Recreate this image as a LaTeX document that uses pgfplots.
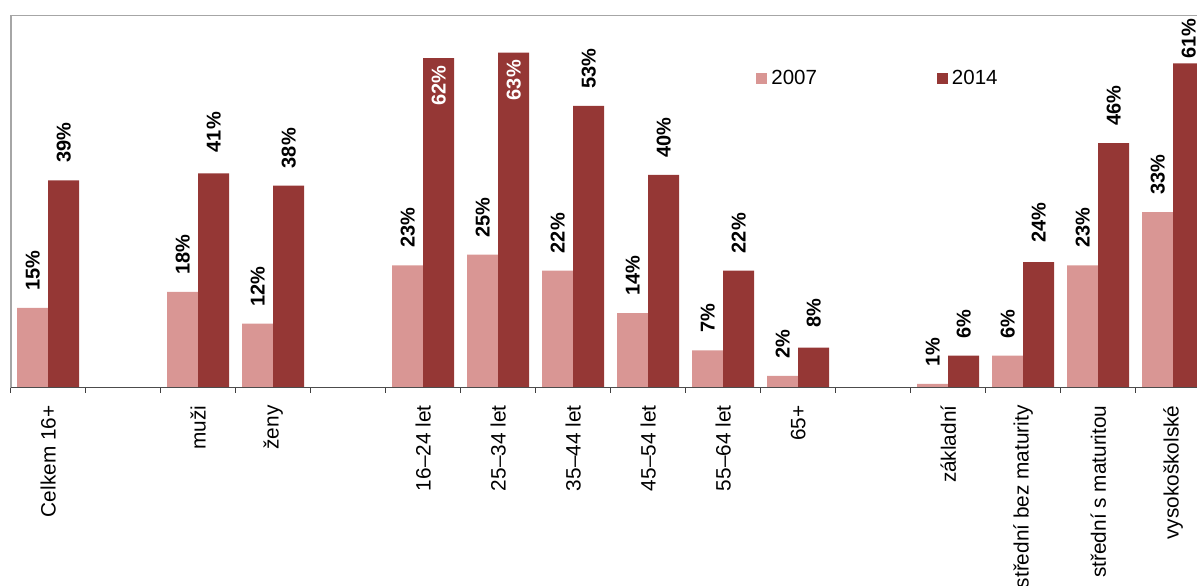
\documentclass[border=0pt]{standalone}
\usepackage{fontspec}
\setmainfont{Liberation Sans}
\usepackage{pgfplots}
\pgfplotsset{compat=1.18}
\definecolor{c07}{HTML}{D99694}
\definecolor{c14}{HTML}{953735}
\begin{document}
\begin{tikzpicture}
\path[use as bounding box, clip] (-5.35pt,-98.75pt) rectangle (593.15pt,193.75pt);
\begin{axis}[
  at={(0,0)}, anchor=south west,
  scale only axis, width=600pt, height=186pt,
  xmin=-0.5, xmax=15.5, ymin=0, ymax=70,
  ybar, bar width=15.5pt,
  axis line style={draw=black!35, line width=0.9pt},
  ytick=\empty,
  xtick={0,2,3,5,6,7,8,9,10,12,13,14,15},
  xticklabels={Celkem 16+, muži, ženy, 16–24 let, 25–34 let, 35–44 let, 45–54 let, 55–64 let, 65+, základní, střední bez maturity, střední s maturitou, vysokoškolské},
  major tick length=0pt,
  minor xtick={-0.5,0.5,...,15.5},
  minor tick length=2.5pt,
  tick align=outside, xtick pos=lower,
  minor tick style={black!75, line width=0.5pt},
  xticklabel style={rotate=90, anchor=east, font=\fontsize{10.4}{12}\selectfont, inner ysep=0pt, inner xsep=8.8pt, text=black},
  /pgf/number format/assume math mode=true,
  /pgf/number format/fixed, /pgf/number format/precision=0,
  nodes near coords={\pgfmathprintnumber{\pgfplotspointmeta}\%},
  nodes near coords style={rotate=90, anchor=west, inner xsep=8.5pt, inner ysep=0pt, font=\bfseries\fontsize{10}{12}\selectfont, text=black},
  legend columns=2,
  legend style={draw=none, fill=none, at={(axis cs:9.437,58.1)}, anchor=west, inner sep=0pt,
    font=\fontsize{10.25}{12}\selectfont, /tikz/every even column/.append style={column sep=58pt}},
  legend image code/.code={\fill[#1] (0pt,-2.75pt) rectangle (5.5pt,2.75pt);},
]
\addplot[fill=c07, draw=none, bar shift=-7.75pt] coordinates {(0,15)(2,18)(3,12)(5,23)(6,25)(7,22)(8,14)(9,7)(10,2.2)(12,0.7)(13,6)(14,23)(15,33)};
\addlegendentry{2007}
\addplot[fill=c14, draw=none, bar shift=7.75pt, nodes near coords=\empty] coordinates {(0,39)(2,40.3)(3,38)(5,62)(6,63)(7,53)(8,40)(9,22)(10,7.5)(12,6)(13,23.6)(14,46)(15,61)};
\addlegendentry{2014}
\addplot[forget plot, fill=none, draw=none, bar shift=7.75pt] coordinates {(0,39)(2,41)(3,38)(7,53)(8,40)(9,22)(10,8)(12,6)(13,24)(14,46)};
\addplot[forget plot, fill=none, draw=none, bar shift=7.75pt, nodes near coords style={anchor=east, inner xsep=3.5pt, text=white}] coordinates {(5,62)(6,63)};
\addplot[forget plot, fill=none, draw=none, bar shift=7.75pt, nodes near coords={61\%}, nodes near coords style={anchor=east, inner xsep=0pt}] coordinates {(15,69.5)};
\draw[black!70, line width=0.6pt] (rel axis cs:0,0) -- (rel axis cs:1,0);
\end{axis}
\end{tikzpicture}
\end{document}
